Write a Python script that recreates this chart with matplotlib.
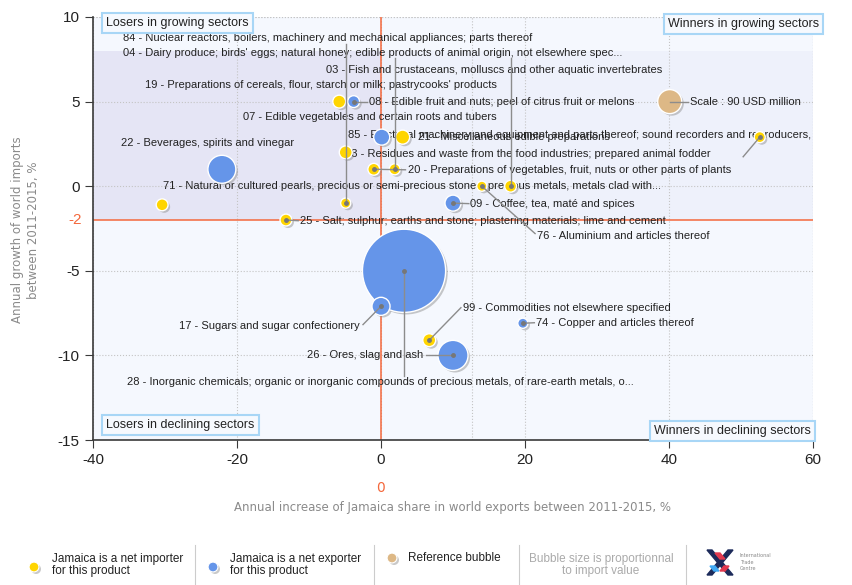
import numpy as np
import matplotlib
matplotlib.use("Agg")
import matplotlib.pyplot as plt
import matplotlib.patheffects as pe
from matplotlib import font_manager
from matplotlib.patches import Rectangle, Polygon

plt.rcParams["axes.unicode_minus"] = False

# pick a narrow font if there is one, it's closer to the original
names = set(f.name for f in font_manager.fontManager.ttflist)
narrow = "Liberation Sans Narrow" if "Liberation Sans Narrow" in names else "Liberation Sans"

# HS codes of the products
codes = ["19", "07", "20", "04", "84", "71", "25", "21", "76", "03", "23", "99",
         "08", "85", "22", "09", "28", "17", "74", "26"]
# annual increase of Jamaica share in world exports, %
share_growth = [-5.8, -4.9, -1.0, 1.9, -4.9, -30.4, -13.2, 3.0, 14.0, 18.0, 52.6, 6.7,
                -3.8, 0.1, -22.1, 10.0, 3.2, 0.0, 19.7, 10.0]
# annual growth of world imports, %
import_growth = [5.0, 2.0, 1.0, 1.0, -1.0, -1.1, -2.0, 2.9, 0.0, 0.0, 2.9, -9.1,
                 5.0, 2.9, 1.0, -1.0, -5.0, -7.1, -8.1, -10.0]
# import value, USD million (bubble size)
import_value = [26, 26, 22, 19, 16, 22, 22, 31, 16, 22, 19, 26,
                22, 40, 122, 40, 1080, 51, 16, 141]
# 1 = Jamaica is a net exporter
net_exporter = [0, 0, 0, 0, 0, 0, 0, 0, 0, 0, 0, 0,
                1, 1, 1, 1, 1, 1, 1, 1]

ref_value = 90
ref_x, ref_y = 40.1, 5.0

label_text = {
    "84": "84 - Nuclear reactors, boilers, machinery and mechanical appliances; parts thereof",
    "04": "04 - Dairy produce; birds' eggs; natural honey; edible products of animal origin, not elsewhere spec...",
    "03": "03 - Fish and crustaceans, molluscs and other aquatic invertebrates",
    "19": "19 - Preparations of cereals, flour, starch or milk; pastrycooks' products",
    "08": "08 - Edible fruit and nuts; peel of citrus fruit or melons",
    "07": "07 - Edible vegetables and certain roots and tubers",
    "85": "85 - Electrical machinery and equipment and parts thereof; sound recorders and reproducers,",
    "21": "21 - Miscellaneous edible preparations",
    "22": "22 - Beverages, spirits and vinegar",
    "23": "23 - Residues and waste from the food industries; prepared animal fodder",
    "20": "20 - Preparations of vegetables, fruit, nuts or other parts of plants",
    "71": "71 - Natural or cultured pearls, precious or semi-precious stones, precious metals, metals clad with...",
    "09": "09 - Coffee, tea, maté and spices",
    "25": "25 - Salt; sulphur; earths and stone; plastering materials; lime and cement",
    "76": "76 - Aluminium and articles thereof",
    "99": "99 - Commodities not elsewhere specified",
    "74": "74 - Copper and articles thereof",
    "17": "17 - Sugars and sugar confectionery",
    "26": "26 - Ores, slag and ash",
    "28": "28 - Inorganic chemicals; organic or inorganic compounds of precious metals, of rare-earth metals, o...",
}

# where each label sits (x, y, alignment) and where its leader line ends (None = no line)
label_place = {
    "84": (-35.8, 8.78, "left", (-4.9, 8.4)),
    "04": (-35.8, 7.89, "left", (1.9, 7.6)),
    "03": (-7.6, 6.89, "left", (18.0, 7.6)),
    "19": (-32.8, 6.0, "left", None),
    "08": (-1.7, 5.0, "left", (-1.9, 5.0)),
    "07": (-19.2, 4.1, "left", None),
    "85": (-4.6, 3.04, "left", None),
    "21": (5.1, 2.93, "left", None),
    "22": (-36.1, 2.57, "left", None),
    "23": (-5.0, 1.92, "left", (50.3, 1.74)),
    "20": (3.75, 0.97, "left", (3.4, 0.97)),
    "71": (-30.3, 0.03, "left", None),
    "09": (12.4, -1.03, "left", (12.2, -1.03)),
    "25": (-11.25, -2.04, "left", (-11.5, -2.04)),
    "76": (21.7, -2.93, "left", (21.4, -2.8)),
    "99": (11.4, -7.18, "left", (11.1, -7.18)),
    "74": (21.5, -8.07, "left", (21.3, -8.07)),
    "17": (-2.9, -8.24, "right", (-2.5, -8.18)),
    "26": (5.8, -10.0, "right", (6.3, -10.0)),
    "28": (-35.3, -11.55, "left", (3.2, -11.2)),
}

yellow = "#ffd500"
blue = "#6595e9"
tan = "#ddb886"
orange = "#f4683c"

def bubble_size(v):
    # marker area in pt^2, 90 USD million -> 12 px radius
    return 3.32 * np.array(v, float)

fig = plt.figure(figsize=(8.53, 5.85), dpi=100)
ax = fig.add_axes([93 / 853, 1 - 440 / 585, 720 / 853, 423 / 585])
ax.set_xlim(-40, 60)
ax.set_ylim(-15, 10)
ax.set_facecolor("#f5f8fe")

# shaded bands
ax.add_patch(Rectangle((-40, -2), 40, 10, facecolor="#e5e5f5", edgecolor="none", zorder=0))
ax.add_patch(Rectangle((0, -2), 60, 10, facecolor="#eef1fb", edgecolor="none", zorder=0))

ax.set_xticks([-40, -20, 0, 20, 40, 60])
ax.set_yticks([-15, -10, -5, 0, 5, 10])
ax.grid(True, linestyle=":", color="#c4c4c4", linewidth=0.8, zorder=1)
ax.axvline(12.6, linestyle=":", color="#c4c4c4", linewidth=0.8, zorder=1)
ax.axhline(10, linestyle=":", color="#c4c4c4", linewidth=0.8, zorder=1)
ax.axvline(60, linestyle=":", color="#c4c4c4", linewidth=0.8, zorder=1)
ax.axhline(-2, color=orange, linewidth=1.1, zorder=2)
ax.axvline(0, color=orange, linewidth=1.1, zorder=2)

for s in ["top", "right"]:
    ax.spines[s].set_visible(False)
for s in ["left", "bottom"]:
    ax.spines[s].set_color("#3a3a3a")
    ax.spines[s].set_linewidth(1.2)
ax.tick_params(direction="out", length=6, color="#3a3a3a", labelsize=11, labelcolor="#222")
for t in ax.get_xticklabels() + ax.get_yticklabels():
    t.set_fontfamily(narrow)
ax.text(-41.5, -2, "-2", color=orange, fontsize=11, family=narrow, ha="right", va="center")

# bubbles
x = np.array(share_growth)
y = np.array(import_growth)
exp = np.array(net_exporter) == 1
shadow = [pe.SimplePatchShadow(offset=(1.5, -1.5), shadow_rgbFace="#888888", alpha=0.45), pe.Normal()]
for mask, col in [(~exp, yellow), (exp, blue)]:
    sc = ax.scatter(x[mask], y[mask], s=bubble_size(np.array(import_value)[mask]),
                    color=col, edgecolors="white", linewidths=1.0, zorder=4)
    sc.set_path_effects(shadow)
sc = ax.scatter([ref_x], [ref_y], s=bubble_size([ref_value]), color=tan,
                edgecolors="white", linewidths=1.0, zorder=4)
sc.set_path_effects(shadow)

# labels and leader lines
for i, c in enumerate(codes):
    lx, ly, ha, end = label_place[c]
    ax.text(lx, ly, label_text[c], fontsize=8, family="Liberation Sans", color="#222",
            ha=ha, va="center", zorder=3)
    if end is not None:
        ax.plot([share_growth[i], end[0]], [import_growth[i], end[1]], color="#8c8c8c",
                linewidth=1.0, zorder=5)
        ax.plot(share_growth[i], import_growth[i], "o", color="#777777", markersize=2.5, zorder=6)
ax.text(42.9, 5.0, "Scale : 90 USD million", fontsize=8, family="Liberation Sans",
        color="#222", va="center", zorder=3)
ax.plot([ref_x, 42.7], [ref_y, ref_y], color="#8c8c8c", linewidth=1.0, zorder=5)

# overlay in pixel coordinates for boxes, titles and the legend
ov = fig.add_axes([0, 0, 1, 1])
ov.set_xlim(0, 853)
ov.set_ylim(585, 0)
ov.axis("off")
ov.patch.set_alpha(0)

box = dict(boxstyle="square,pad=0.35", facecolor="#f6f9fe", edgecolor="#a8d6f6", linewidth=1.5)
ov.text(106, 23, "Losers in growing sectors", fontsize=9, family=narrow, color="#222",
        va="center", bbox=box, zorder=10)
ov.text(668, 24, "Winners in growing sectors", fontsize=9, family=narrow, color="#222",
        va="center", bbox=box, zorder=10)
ov.text(106, 425, "Losers in declining sectors", fontsize=9, family=narrow, color="#222",
        va="center", bbox=box, zorder=10)
ov.text(654, 431, "Winners in declining sectors", fontsize=9, family=narrow, color="#222",
        va="center", bbox=box, zorder=10)

ov.text(26, 230, "Annual growth of world imports\nbetween 2011-2015, %", rotation=90,
        ha="center", va="center", fontsize=8.5, color="#8a8a8a", linespacing=1.3)
ov.text(381, 488, "0", ha="center", va="center", fontsize=10, color=orange)
ov.text(453, 507, "Annual increase of Jamaica share in world exports between 2011-2015, %",
        ha="center", va="center", fontsize=8.5, color="#8a8a8a")

# legend row
lg = dict(fontsize=8.5, family=narrow, color="#222", va="center", linespacing=1.05)
ov.scatter([34], [567], s=50, color=yellow, edgecolors="white", linewidths=0.8).set_path_effects(shadow)
ov.text(52, 565, "Jamaica is a net importer\nfor this product", **lg)
ov.scatter([213], [567], s=50, color=blue, edgecolors="white", linewidths=0.8).set_path_effects(shadow)
ov.text(230, 565, "Jamaica is a net exporter\nfor this product", **lg)
ov.scatter([392], [558], s=50, color=tan, edgecolors="white", linewidths=0.8).set_path_effects(shadow)
ov.text(408, 558, "Reference bubble", **lg)
ov.text(601, 565, "Bubble size is proportionnal\nto import value", fontsize=8.5, family=narrow,
        color="#aaaaaa", ha="center", va="center", linespacing=1.05)
for sx in [195, 374, 519, 686]:
    ov.plot([sx, sx], [545, 585], color="#cccccc", linewidth=0.8)

# rough ITC logo
ov.add_patch(Polygon([[707, 550], [712, 550], [733, 575], [728, 575]], color="#1c2a5a"))
ov.add_patch(Polygon([[728, 550], [733, 550], [712, 575], [707, 575]], color="#1c2a5a"))
ov.add_patch(Polygon([[715, 553], [720, 553], [725, 559], [720, 559]], color="#e2394f"))
ov.add_patch(Polygon([[710, 566], [715, 566], [719, 571], [714, 571]], color="#3fa9f5"))
ov.add_patch(Polygon([[724, 566], [729, 566], [725, 571], [720, 571]], color="#e2394f"))
ov.text(740, 562, "International\nTrade\nCentre", fontsize=3.5, color="#888888", va="center",
        linespacing=1.3)

fig.savefig("out.png", dpi=100)
